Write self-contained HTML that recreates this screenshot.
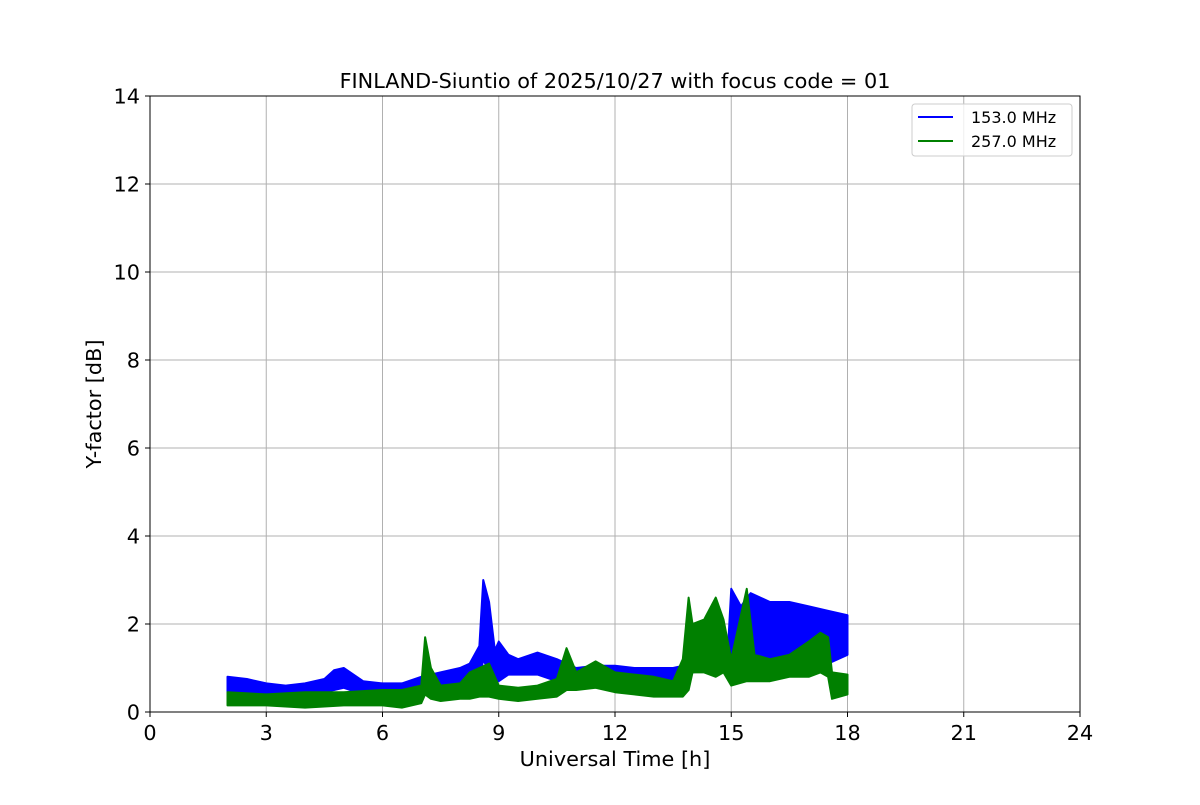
<!DOCTYPE html>
<html><head><meta charset="utf-8"><style>
body{margin:0;background:#fff;}
svg text{font-family:"DejaVu Sans","Liberation Sans",sans-serif;fill:#000;}
</style></head><body>
<svg id="chart" width="1200" height="800" xmlns="http://www.w3.org/2000/svg">
<rect width="1200" height="800" fill="#fff"/>
<g id="grid"></g>
<g id="series"></g>
<rect x="150" y="96" width="930" height="616" fill="none" stroke="#000" stroke-width="1"/>
<g id="ticks"></g>
<text x="615" y="88" font-size="20.8" text-anchor="middle">FINLAND-Siuntio of 2025/10/27 with focus code = 01</text>
<text x="615" y="766" font-size="20.8" text-anchor="middle">Universal Time [h]</text>
<text transform="translate(101,404) rotate(-90)" font-size="20.8" text-anchor="middle">Y-factor [dB]</text>
<g>
<rect x="912" y="104" width="160" height="52" rx="3" fill="#fff" fill-opacity="0.8" stroke="#ccc"/>
<line x1="918" y1="117" x2="953" y2="117" stroke="#0000ff" stroke-width="2"/>
<text x="971" y="123" font-size="16">153.0 MHz</text>
<line x1="918" y1="141" x2="953" y2="141" stroke="#008000" stroke-width="2"/>
<text x="971" y="147" font-size="16">257.0 MHz</text>
</g>
</svg>
<script>
const xTicks=[0,3,6,9,12,15,18,21,24];
const yTicks=[0,2,4,6,8,10,12,14];
const blueT=[2,2.5,3,3.5,4,4.5,4.75,5,5.5,6,6.5,7,7.5,8,8.25,8.5,8.6,8.75,8.9,9,9.25,9.5,10,10.5,11,11.5,12,12.5,13,13.5,13.75,14,14.5,14.9,15,15.25,15.5,16,16.5,17,17.5,18];
const blueHi=[0.8,0.75,0.65,0.6,0.65,0.75,0.95,1.0,0.7,0.65,0.65,0.8,0.9,1.0,1.1,1.5,3.0,2.5,1.4,1.6,1.3,1.2,1.35,1.2,1.0,1.05,1.05,1.0,1.0,1.0,1.05,1.2,1.25,1.2,2.8,2.4,2.7,2.5,2.5,2.4,2.3,2.2];
const blueLo=[0.4,0.35,0.35,0.35,0.4,0.45,0.5,0.55,0.4,0.35,0.35,0.4,0.5,0.55,0.6,0.7,1.2,0.9,0.8,0.7,0.85,0.85,0.85,0.7,0.55,0.6,0.6,0.55,0.5,0.5,0.8,0.9,0.95,0.95,1.2,1.1,1.0,1.0,1.1,1.0,1.1,1.3];
const greenT=[2,3,4,5,6,6.5,7,7.1,7.25,7.5,8,8.25,8.5,8.75,9,9.5,10,10.5,10.75,11,11.5,12,12.5,13,13.5,13.75,13.9,14,14.3,14.6,14.8,15,15.4,15.6,16,16.5,17,17.3,17.5,17.6,18];
const greenHi=[0.45,0.4,0.45,0.45,0.5,0.5,0.6,1.7,1.0,0.6,0.65,0.9,1.0,1.1,0.6,0.55,0.6,0.75,1.45,0.9,1.15,0.9,0.85,0.8,0.7,1.2,2.6,2.0,2.1,2.6,2.1,1.2,2.8,1.3,1.2,1.3,1.6,1.8,1.7,0.9,0.85];
const greenLo=[0.15,0.15,0.1,0.15,0.15,0.1,0.2,0.4,0.3,0.25,0.3,0.3,0.35,0.35,0.3,0.25,0.3,0.35,0.5,0.5,0.55,0.45,0.4,0.35,0.35,0.35,0.5,0.9,0.9,0.8,0.9,0.6,0.7,0.7,0.7,0.8,0.8,0.9,0.8,0.3,0.4];
const X=t=>150+t*930/24, Y=v=>712-v*616/14;
const NS="http://www.w3.org/2000/svg";
const grid=document.getElementById('grid'),ticks=document.getElementById('ticks'),ser=document.getElementById('series');
function mk(tag,attrs,parent){const e=document.createElementNS(NS,tag);for(const k in attrs)e.setAttribute(k,attrs[k]);parent.appendChild(e);return e;}
xTicks.forEach(t=>{
 if(t>0&&t<24){const g=mk('line',{x1:X(t),x2:X(t),y1:96,y2:712,stroke:'#b0b0b0','stroke-width':1},grid);
 
 }
 mk('line',{x1:X(t),x2:X(t),y1:712,y2:717,stroke:'#000'},ticks);
 const l=mk('text',{x:X(t),y:740,'font-size':20.8,'text-anchor':'middle'},ticks);l.textContent=t;
 
 
});
yTicks.forEach(v=>{
 if(v>0&&v<14){const g=mk('line',{x1:150,x2:1080,y1:Y(v),y2:Y(v),stroke:'#b0b0b0','stroke-width':1},grid);
 
 }
 mk('line',{x1:145,x2:150,y1:Y(v),y2:Y(v),stroke:'#000'},ticks);
 const l=mk('text',{x:140,y:Y(v)+7.5,'font-size':20.8,'text-anchor':'end'},ticks);l.textContent=v;
 
 
});
function band(T,H,L,color,name){
 let pts=T.map((t,i)=>X(t)+','+Y(H[i]));
 for(let i=T.length-1;i>=0;i--)pts.push(X(T[i])+','+Y(L[i]));
 const p=mk('polygon',{points:pts.join(' '),fill:color,stroke:color,'stroke-width':2,'stroke-linejoin':'round'},ser);
 
 
}
band(blueT,blueHi,blueLo,'#0000ff','series-153mhz');
band(greenT,greenHi,greenLo,'#008000','series-257mhz');
</script>
</body></html>
